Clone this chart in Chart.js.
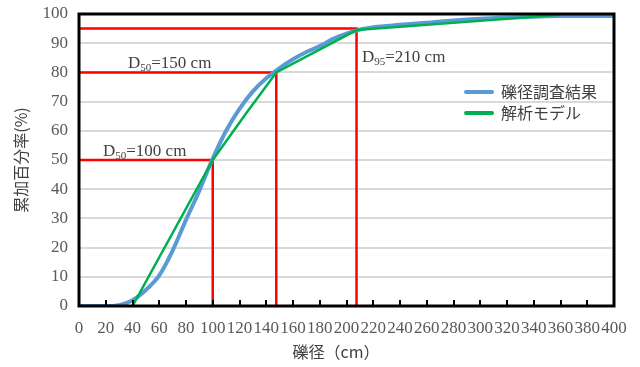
<!DOCTYPE html>
<html>
<head>
<meta charset="utf-8">
<script src="https://cdn.jsdelivr.net/npm/chart.js@4.4.0/dist/chart.umd.min.js"></script>
<style>
  html, body { margin: 0; padding: 0; background: #fff; }
  #wrap { width: 640px; height: 367px; }
</style>
</head>
<body>
<div id="wrap"><canvas id="grafico"></canvas></div>
<script>
"use strict";

// 礫径調査結果 (observed)
const obsX = [0, 10, 20, 30, 40, 50, 60, 70, 80, 90, 100, 110, 120, 130, 140, 150, 160, 170, 180, 190, 200, 210, 220, 240, 260, 280, 300, 320, 340, 360, 380, 400];
const obsY = [0, 0, 0, 0.3, 2, 5.5, 10.5, 19, 29.5, 39.5, 50.5, 60, 67.5, 73.5, 78, 81.5, 84.5, 87, 89, 91.5, 93.3, 94.7, 95.5, 96.3, 97, 97.8, 98.4, 98.8, 99.1, 99.3, 99.3, 99.3];

// 解析モデル
const modelX = [40, 100, 125, 147.5, 207.5, 360];
const modelY = [0, 50, 66, 80, 94.5, 99.7];

// guide lines (D values)
const guideX = [[0, 100, 100], [0, 147.5, 147.5], [0, 207.5, 207.5]];
const guideY = [[50, 50, 0], [80, 80, 0], [95, 95, 0]];

const xTicks = [0, 20, 40, 60, 80, 100, 120, 140, 160, 180, 200, 220, 240, 260, 280, 300, 320, 340, 360, 380, 400];
const yTicks = [0, 10, 20, 30, 40, 50, 60, 70, 80, 90, 100];

const seriesNames = ['礫径調査結果', '解析モデル'];
const notes = [
  { main: 'D', sub: '50', rest: '=150 cm', x: 128, y: 62 },
  { main: 'D', sub: '50', rest: '=100 cm', x: 103, y: 150 },
  { main: 'D', sub: '95', rest: '=210 cm', x: 362, y: 56 }
];

const toPts = (xs, ys) => xs.map((x, i) => ({ x: x, y: ys[i] }));

const datasets = [
  {
    label: seriesNames[0],
    data: toPts(obsX, obsY),
    borderColor: '#5b9bd5',
    borderWidth: 4,
    pointRadius: 0,
    showLine: true,
    cubicInterpolationMode: 'monotone',
    order: 2
  },
  {
    label: seriesNames[1],
    data: toPts(modelX, modelY),
    borderColor: '#00b050',
    borderWidth: 2.5,
    pointRadius: 0,
    showLine: true,
    tension: 0,
    order: 1
  }
];
guideX.forEach(function (gx, i) {
  datasets.push({
    label: 'guide' + i,
    data: toPts(gx, guideY[i]),
    borderColor: '#ff0000',
    borderWidth: 2.5,
    pointRadius: 0,
    showLine: true,
    tension: 0,
    order: 3
  });
});

const serif = '"Liberation Serif", "DejaVu Serif", serif';
const sans = '"Noto Sans CJK JP", "Noto Sans", sans-serif';

// frame, inner tick marks, legend, notes, x title
const extras = {
  id: 'extras',
  afterDatasetsDraw(chart) {
    const ctx = chart.ctx;
    const a = chart.chartArea;
    const xs = chart.scales.x;
    ctx.save();
    // tick marks pointing inward
    ctx.strokeStyle = '#000';
    ctx.lineWidth = 2;
    xTicks.forEach(function (t) {
      const px = Math.round(xs.getPixelForValue(t));
      ctx.beginPath();
      ctx.moveTo(px, a.bottom);
      ctx.lineTo(px, a.bottom - 6);
      ctx.stroke();
    });
    // frame
    ctx.lineWidth = 3;
    ctx.strokeRect(a.left, a.top, a.right - a.left, a.bottom - a.top);

    // legend
    const legendColors = [datasets[0].borderColor, datasets[1].borderColor];
    ctx.font = '16px ' + sans;
    ctx.textBaseline = 'middle';
    ctx.fillStyle = '#404040';
    seriesNames.forEach(function (name, i) {
      const y = 92 + i * 21;
      ctx.strokeStyle = legendColors[i];
      ctx.lineWidth = 4;
      ctx.lineCap = 'round';
      ctx.beginPath();
      ctx.moveTo(466, y);
      ctx.lineTo(492, y);
      ctx.stroke();
      ctx.fillText(name, 501, y);
    });

    // notes with subscript
    ctx.fillStyle = '#404040';
    ctx.textBaseline = 'alphabetic';
    notes.forEach(function (n) {
      let x = n.x;
      const base = n.y + 6;
      ctx.font = '17px ' + serif;
      ctx.fillText(n.main, x, base);
      x += ctx.measureText(n.main).width;
      ctx.font = '11px ' + serif;
      ctx.fillText(n.sub, x, base + 3);
      x += ctx.measureText(n.sub).width;
      ctx.font = '17px ' + serif;
      ctx.fillText(n.rest, x, base);
    });

    // x title
    ctx.font = '16px ' + sans;
    ctx.textAlign = 'center';
    ctx.textBaseline = 'middle';
    ctx.fillStyle = '#404040';
    ctx.fillText('礫径（cm）', 336, 352);
    ctx.restore();
  }
};

new Chart(document.getElementById('grafico').getContext('2d'), {
  type: 'scatter',
  data: { datasets: datasets },
  options: {
    responsive: true,
    maintainAspectRatio: false,
    animation: false,
    layout: { padding: { top: 14, right: 26, left: 0, bottom: 0 } },
    plugins: {
      legend: { display: false },
      tooltip: { enabled: false }
    },
    scales: {
      x: {
        type: 'linear',
        min: 0,
        max: 400,
        afterBuildTicks: function (scale) {
          scale.ticks = xTicks.map(v => ({ value: v }));
        },
        afterFit: function (scale) {
          scale.height = 61;
          scale.paddingLeft = 0;
          scale.paddingRight = 0;
        },
        grid: { display: false, drawTicks: false },
        border: { display: false },
        ticks: {
          autoSkip: false,
          maxRotation: 0,
          minRotation: 0,
          padding: 12,
          color: '#595959',
          font: { family: serif, size: 17 }
        }
      },
      y: {
        min: 0,
        max: 100,
        afterBuildTicks: function (scale) {
          scale.ticks = yTicks.map(v => ({ value: v }));
        },
        afterFit: function (scale) {
          scale.width = 79;
          scale.paddingTop = 0;
          scale.paddingBottom = 0;
        },
        grid: { color: '#d9d9d9', lineWidth: 2, drawTicks: false },
        border: { display: false },
        ticks: {
          padding: 11,
          color: '#595959',
          font: { family: serif, size: 17 }
        },
        title: {
          display: true,
          text: '累加百分率(%)',
          color: '#404040',
          padding: { top: 11, bottom: 0 },
          font: { family: sans, size: 16 }
        }
      }
    }
  },
  plugins: [extras]
});
</script>
</body>
</html>
